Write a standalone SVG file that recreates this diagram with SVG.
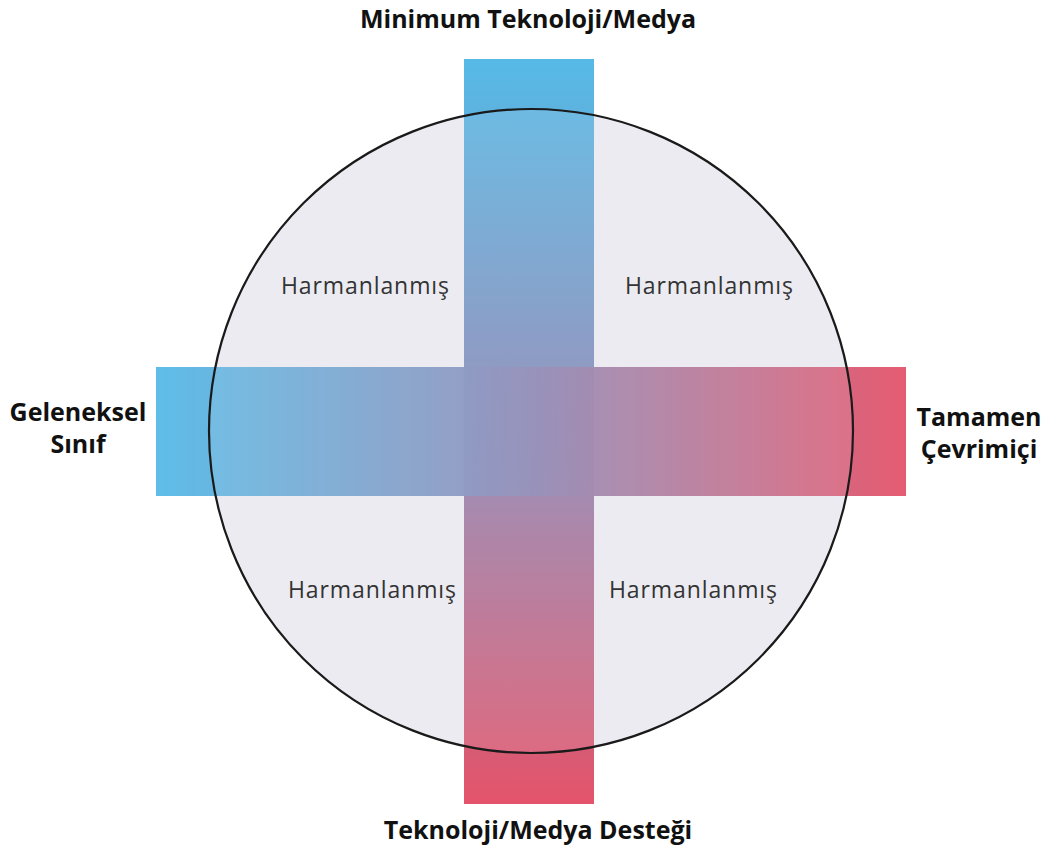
<svg xmlns="http://www.w3.org/2000/svg" width="1047" height="850" viewBox="0 0 1047 850">
  <defs>
    <linearGradient id="gradV" x1="0" y1="0" x2="0" y2="1">
      <stop offset="0" stop-color="#56BAE7"/>
      <stop offset="0.5" stop-color="#8C87B4"/>
      <stop offset="1" stop-color="#E4546A"/>
    </linearGradient>
    <linearGradient id="gradH" x1="0" y1="0" x2="1" y2="0">
      <stop offset="0" stop-color="#56BAE7"/>
      <stop offset="0.5" stop-color="#8C87B4"/>
      <stop offset="1" stop-color="#E4546A"/>
    </linearGradient>
    <style>
      .title { font-family: "Open Sans", "Noto Sans", "Liberation Sans", sans-serif; font-weight: bold; font-size: 25px; fill: #111111; text-anchor: middle; }
      .zone { font-family: "Open Sans", "Noto Sans", "Liberation Sans", sans-serif; font-size: 23px; fill: #333333; text-anchor: middle; }
    </style>
  </defs>
  <rect width="1047" height="850" fill="#FFFFFF"/>

  <g id="circle-bg">
    <circle cx="531" cy="431" r="322" fill="#E9E9F0"/>
  </g>

  <g id="axis-vertical">
    <rect x="464" y="59" width="130" height="745" fill="url(#gradV)"/>
  </g>
  <g id="axis-horizontal">
    <rect x="156" y="367" width="750" height="129" fill="url(#gradH)" opacity="0.95"/>
  </g>

  <!-- light veil over everything inside the ring -->
  <g id="circle-outline">
    <circle cx="531" cy="431" r="322" fill="#FFFFFF" fill-opacity="0.1" stroke="#1A1A1A" stroke-width="2.2"/>
  </g>

  <g id="zone-top-left"><text class="zone" x="365" y="294" textLength="168">Harmanlanmış</text></g>
  <g id="zone-top-right"><text class="zone" x="709" y="294" textLength="168">Harmanlanmış</text></g>
  <g id="zone-bottom-left"><text class="zone" x="372" y="598" textLength="168">Harmanlanmış</text></g>
  <g id="zone-bottom-right"><text class="zone" x="693" y="598" textLength="168">Harmanlanmış</text></g>

  <g id="label-top"><text class="title" x="528" y="28">Minimum Teknoloji/Medya</text></g>
  <g id="label-bottom"><text class="title" x="538" y="839">Teknoloji/Medya Desteği</text></g>
  <g id="label-left">
    <text class="title" x="78" y="421">Geleneksel</text>
    <text class="title" x="78" y="453">Sınıf</text>
  </g>
  <g id="label-right">
    <text class="title" x="979" y="426">Tamamen</text>
    <text class="title" x="979" y="458">Çevrimiçi</text>
  </g>
</svg>
